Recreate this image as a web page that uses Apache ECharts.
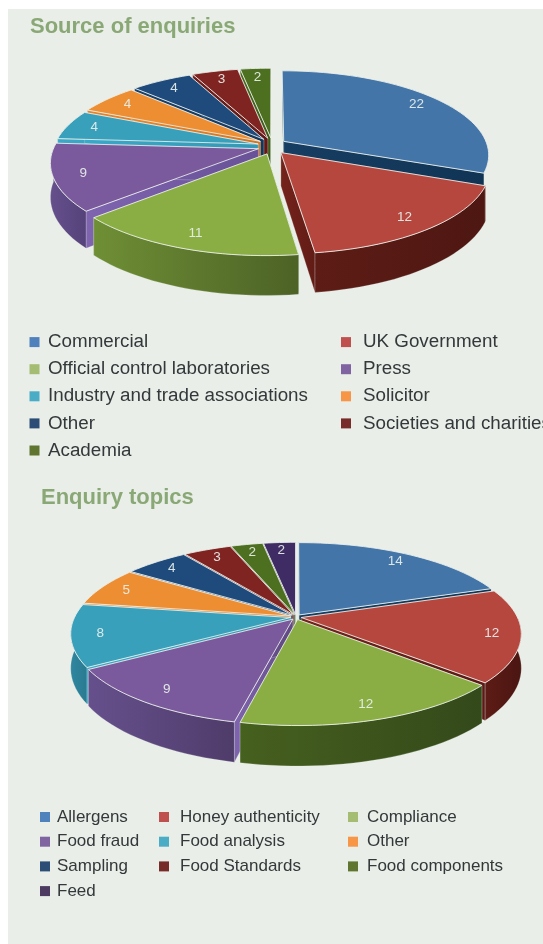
<!DOCTYPE html>
<html>
<head>
<meta charset="utf-8">
<style>html,body{margin:0;padding:0;background:#fff;overflow:hidden}#chart{width:543px;height:944px}</style>
<script src="https://cdn.jsdelivr.net/npm/echarts@6/dist/echarts.min.js"></script>
</head>
<body>
<div id="chart"></div>
<script>
// Enquiry counts
const sourceNames = ['Commercial', 'UK Government', 'Official control laboratories', 'Press', 'Industry and trade associations', 'Solicitor', 'Other', 'Societies and charities', 'Academia'];
const sourceValues = [22, 12, 11, 9, 4, 4, 4, 3, 2];
const topicNames = ['Allergens', 'Honey authenticity', 'Compliance', 'Food fraud', 'Food analysis', 'Other', 'Sampling', 'Food Standards', 'Food components', 'Feed'];
const topicValues = [14, 12, 12, 9, 8, 5, 4, 3, 2, 2];

// Slice colours: top face, side wall (light, dark), legend swatch
const topColors = ['#4475a8', '#b5473f', '#8aae43', '#7a5a9c', '#38a0ba', '#ee8e33', '#1f4a7c', '#802422', '#4d7020', '#3f2c64'];
const sourceWalls = [['#12324f', '#0e2a44'], ['#5e1c16', '#4e1712'], ['#6f8f35', '#4c6226'], ['#66508c', '#54427a'], ['#2f87a0', '#2a7a90'], ['#b86a22', '#a85e1c'], ['#143558', '#102c4a'], ['#5c1816', '#4c1412'], ['#3a5518', '#304814']];
const topicWalls = [['#12324f', '#0e2a44'], ['#5e1c16', '#4a1512'], ['#46601f', '#34491a'], ['#66508c', '#4f3c6a'], ['#2f87a0', '#2a7a90'], ['#b86a22', '#a85e1c'], ['#143558', '#102c4a'], ['#5c1816', '#4c1412'], ['#3a5518', '#304814'], ['#2c1f48', '#241a3c']];
const swatchColors = ['#4f81bd', '#c0504d', '#a5bd72', '#8064a2', '#4bacc6', '#f79646', '#2c4d75', '#772c2a', '#5f7530', '#4d3b62'];

const EDGE = 'rgba(236,241,236,0.85)';
const WALL_EDGE = 'rgba(236,241,236,0.3)';
const FONT = '"Liberation Sans", sans-serif';
const DEG = Math.PI / 180;

// Perspective tilted pie: one custom series per slice so the legend can name each one.
function pieSeries(names, values, walls, g) {
  const total = values.reduce((a, b) => a + b, 0);
  let running = 0;
  return names.map((name, i) => {
    const a0 = running / total * Math.PI * 2;
    running += values[i];
    const a1 = running / total * Math.PI * 2;
    const mid = (a0 + a1) / 2;
    const ox = g.explodeX * Math.sin(mid);
    const oy = -g.explodeY * Math.cos(mid);

    const project = (r, a, drop) => {
      const X = r * Math.sin(a) + ox;
      const Y = -r * Math.cos(a) + oy;
      const s = 1 / (1 - g.persp * Y);
      return [g.cx + g.R * X * s, g.cy + g.depth * Y * s + drop * s];
    };
    const arc = (from, to, drop) => {
      const pts = [];
      const n = Math.max(6, Math.ceil((to - from) / 0.04));
      for (let k = 0; k <= n; k++) pts.push(project(1, from + (to - from) * k / n, drop));
      return pts;
    };
    const fillOf = (c, shade) => ({
      type: 'linear', x: 0, y: 0, x2: 1, y2: 0,
      colorStops: [
        { offset: 0, color: echarts.color.lift(c[0], shade) },
        { offset: 1, color: echarts.color.lift(c[1], shade) }
      ]
    });

    return {
      type: 'custom',
      name,
      coordinateSystem: 'none',
      itemStyle: { color: swatchColors[i] },
      data: [[values[i]]],
      silent: true,
      renderItem(params, api) {
        const depthOrder = 2 - Math.cos(mid);
        const face = (points, order, shade) => ({
          type: 'polygon', z2: order,
          shape: { points },
          style: { fill: fillOf(walls[i], shade), stroke: WALL_EDGE, lineWidth: 0.8 }
        });
        const apex = project(0, 0, 0), apexLow = project(0, 0, g.height);
        const start = project(1, a0, 0), startLow = project(1, a0, g.height);
        const end = project(1, a1, 0), endLow = project(1, a1, g.height);
        const labelAt = project(g.labelR, mid, 0);
        const children = [
          face([apex, start, startLow, apexLow], depthOrder, -0.25),
          face([apex, end, endLow, apexLow], depthOrder, -0.25)
        ];
        // The outer wall is drawn only across the bearings that face the viewer.
        const wallFrom = Math.max(a0, g.wallFrom), wallTo = Math.min(a1, g.wallTo);
        if (wallTo > wallFrom) {
          children.push(face(arc(wallFrom, wallTo, 0).concat(arc(wallFrom, wallTo, g.height).reverse()), depthOrder + 0.5, 0));
        }
        children.push({
          type: 'polygon', z2: 10,
          shape: { points: [apex].concat(arc(a0, a1, 0)) },
          style: { fill: topColors[i], stroke: EDGE, lineWidth: 1, lineJoin: 'round' }
        }, {
          type: 'text', z2: 20,
          style: {
            text: String(api.value(0)),
            x: labelAt[0], y: labelAt[1],
            align: 'center', verticalAlign: 'middle',
            fill: 'rgba(232,240,236,0.92)',
            font: '13.5px ' + FONT
          }
        });
        return { type: 'group', children };
      }
    };
  });
}

const sourceGeometry = { cx: 272, cy: 146, R: 204, depth: 83, persp: 0.157, height: 33, explodeX: 0.07, explodeY: 0.1, labelR: 0.86, wallFrom: 112 * DEG, wallTo: 270 * DEG };
const topicGeometry = { cx: 296, cy: 617, R: 216, depth: 86, persp: 0.18, height: 33, explodeX: 0.025, explodeY: 0.03, labelR: 0.87, wallFrom: 90 * DEG, wallTo: 270 * DEG };

function legendColumn(names, allNames, left, firstRowY, fontSize, rowStep, textPad) {
  return {
    orient: 'vertical', left, top: firstRowY - fontSize / 2, padding: 0,
    itemWidth: 10, itemHeight: 10, itemGap: rowStep - fontSize,
    icon: 'rect', selectedMode: false,
    textStyle: { color: '#33383a', fontSize, lineHeight: fontSize, fontFamily: FONT, padding: [0, 0, 0, textPad] },
    data: names.map(n => ({ name: n, itemStyle: { color: swatchColors[allNames.indexOf(n)] } }))
  };
}

const titleStyle = { color: '#8aa876', fontSize: 22, fontWeight: 'bold', fontFamily: FONT };

const chart = echarts.init(document.getElementById('chart'), null, { renderer: 'canvas' });
chart.setOption({
  animation: false,
  backgroundColor: '#ffffff',
  graphic: [{ type: 'rect', z: -10, shape: { x: 8, y: 9, width: 535, height: 935 }, style: { fill: '#e9eee8' } }],
  title: [
    { text: 'Source of enquiries', left: 30, top: 16, padding: 0, textStyle: titleStyle },
    { text: 'Enquiry topics', left: 41, top: 487, padding: 0, textStyle: titleStyle }
  ],
  legend: [
    legendColumn([sourceNames[0], sourceNames[2], sourceNames[4], sourceNames[6], sourceNames[8]], sourceNames, 29.5, 342, 18.8, 26.9, 3.5),
    legendColumn([sourceNames[1], sourceNames[3], sourceNames[5], sourceNames[7]], sourceNames, 341, 342, 18.8, 26.9, 7),
    legendColumn([topicNames[0], topicNames[3], topicNames[6], topicNames[9]], topicNames, 40, 817, 17, 24.7, 2),
    legendColumn([topicNames[1], topicNames[4], topicNames[7]], topicNames, 159, 817, 17, 24.7, 6),
    legendColumn([topicNames[2], topicNames[5], topicNames[8]], topicNames, 348, 817, 17, 24.7, 4)
  ],
  series: [
    ...pieSeries(sourceNames, sourceValues, sourceWalls, sourceGeometry),
    ...pieSeries(topicNames, topicValues, topicWalls, topicGeometry)
  ]
});
</script>
</body>
</html>
